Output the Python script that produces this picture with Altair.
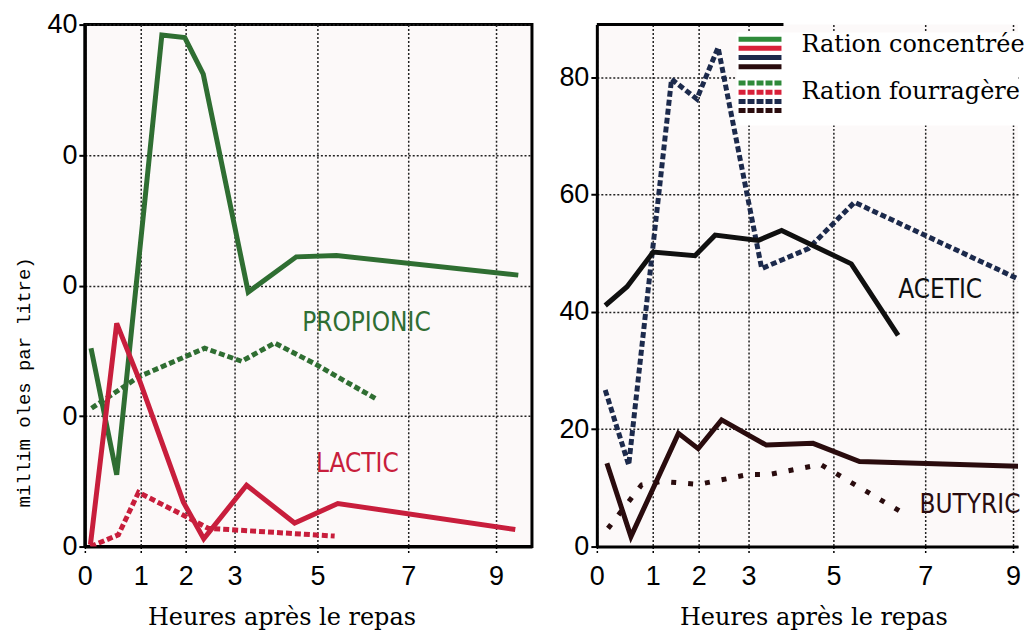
import altair as alt
import pandas as pd

# ---------------- data ----------------
hour_ticks = [0, 1, 2, 3, 5, 7, 9]
left_y_ticks = [0, 10, 20, 30, 40]
left_y_labels = ["0", "0", "0", "0", "40"]
right_y_ticks = [0, 20, 40, 60, 80]

x_title = "Heures après le repas"
y_title = "millim oles par litre)"
legend_labels = ["Ration concentrée", "Ration fourragère"]

# left panel
prop_conc_h = [0.11, 0.57, 1.47, 1.98, 2.36, 3.33, 4.49, 5.42, 9.52]
prop_conc_v = [15.2, 5.5, 39.2, 39.0, 36.2, 19.5, 22.2, 22.3, 20.8]
prop_four_h = [0.12, 0.96, 2.39, 3.17, 3.97, 4.94, 6.30]
prop_four_v = [10.6, 13.0, 15.2, 14.2, 15.6, 14.0, 11.3]
lact_conc_h = [0.10, 0.57, 0.99, 1.95, 2.37, 3.29, 4.45, 5.45, 9.45]
lact_conc_v = [0.15, 17.1, 12.6, 3.4, 0.6, 4.7, 1.8, 3.3, 1.3]
lact_four_h = [0.10, 0.60, 0.96, 1.95, 2.46, 5.38]
lact_four_v = [0.0, 0.9, 4.15, 2.4, 1.4, 0.8]

# right panel
acet_conc_h = [0.15, 0.54, 1.01, 1.92, 2.33, 3.23, 3.78, 5.39, 6.41]
acet_conc_v = [41.1, 44.3, 50.2, 49.6, 53.1, 52.2, 53.9, 48.2, 36.0]
acet_four_h = [0.15, 0.57, 1.41, 1.96, 2.39, 3.31, 4.41, 5.46, 9.48]
acet_four_v = [26.7, 13.9, 79.7, 76.3, 85.1, 47.4, 50.8, 58.7, 44.3]
buty_conc_h = [0.18, 0.61, 1.56, 1.99, 2.46, 3.42, 4.52, 5.57, 9.48]
buty_conc_v = [14.2, 1.7, 19.3, 16.7, 21.6, 17.3, 17.6, 14.5, 13.6]
buty_four_h = [0.20, 0.80, 1.20, 2.00, 3.00, 3.50, 4.70, 6.50]
buty_four_v = [3.1, 10.5, 11.1, 10.6, 12.3, 12.3, 14.0, 5.8]

# curve name annotations (hours, value)
left_notes = ["PROPIONIC", "LACTIC"]
left_notes_h = [6.08, 5.88]
left_notes_v = [17.1, 6.35]
right_notes = ["ACETIC", "BUTYRIC"]
right_notes_h = [7.34, 8.02]
right_notes_v = [43.7, 7.1]

# ---------------- styles ----------------
GREEN = "#2f6e32"
RED = "#c81e3c"
NAVY = "#1c2a4c"
BLACK = "#101010"
MAROON = "#2a0c0e"
BG = "#fcf9f9"
LEG_GREEN = "#2f8a3a"
LEG_RED = "#d8203a"
legend_colors = [LEG_GREEN, LEG_RED, NAVY, MAROON]

DASH = [6, 3]
DOT = [5, 12]
W = 5
LABEL_FONT = "Liberation Sans"
NOTE_FONT = "DejaVu Sans Condensed, Liberation Sans Narrow, Liberation Sans"
SERIF = "DejaVu Serif"

H = 523
LW = 448
RW = 422

left_x_scale = alt.Scale(domain=[0, 1, 2, 3, 5, 7, 9, 9.84],
                         range=[0, 56, 101, 150, 233, 324, 412, LW],
                         nice=False, zero=False)
right_x_scale = alt.Scale(domain=[0, 1, 2, 3, 5, 7, 9, 9.11],
                          range=[0, 56, 102, 152, 237, 329, 417, RW],
                          nice=False, zero=False)
left_y_scale = alt.Scale(domain=[0, 40], nice=False, zero=False)
right_y_scale = alt.Scale(domain=[0, 89], nice=False, zero=False)

common_axis = dict(
    labelFont=LABEL_FONT, labelFontSize=27, labelColor="black",
    domainColor="black", domainWidth=3,
    tickColor="black",
    grid=True, gridColor="#222222", gridWidth=1.5, gridDash=[2, 2], gridOpacity=1,
    titleFont=SERIF, titleFontSize=24, titleFontWeight="normal", titleColor="black",
)


def x_axis(title_x):
    return alt.Axis(values=hour_ticks, title=x_title, labelPadding=10,
                    tickSize=7, tickWidth=1.5, tickDash=[2, 2],
                    titleX=title_x, titleY=78, titleAlign="center",
                    titleBaseline="alphabetic", labelFlush=False,
                    **common_axis)


expr = "'0'"
for t, lab in zip(left_y_ticks, left_y_labels):
    expr = f"datum.value == {t} ? '{lab}' : ({expr})"

left_y_axis = alt.Axis(values=left_y_ticks, labelExpr=expr, title=y_title,
                       labelPadding=2, tickSize=6, tickWidth=2,
                       titleFont="Liberation Mono", titleFontSize=19,
                       titleAngle=270, titleX=-61, titleY=358,
                       titleAlign="center", titleBaseline="middle",
                       **{k: v for k, v in common_axis.items()
                          if k not in ("titleFont", "titleFontSize")})
right_y_axis = alt.Axis(values=right_y_ticks, title=None,
                        labelPadding=2, tickSize=6, tickWidth=2,
                        **common_axis)

left_x_axis = x_axis(197)
right_x_axis = x_axis(217)


def frame(h, v):
    return pd.DataFrame({"h": h, "v": v, "i": list(range(len(h)))})


def line(h, v, color, xs, ys, xa, ya, dash=None):
    kw = dict(color=color, strokeWidth=W, clip=True)
    if dash is not None:
        kw["strokeDash"] = dash
    return alt.Chart(frame(h, v)).mark_line(**kw).encode(
        x=alt.X("h:Q", scale=xs, axis=xa),
        y=alt.Y("v:Q", scale=ys, axis=ya),
        order="i:Q",
    )


def notes(names, hs, vs, colors, xs, ys, xa, ya):
    df = pd.DataFrame({"t": names, "h": hs, "v": vs, "c": colors})
    return alt.Chart(df).mark_text(font=NOTE_FONT, fontSize=26,
                                   align="center", baseline="middle").encode(
        x=alt.X("h:Q", scale=xs, axis=xa),
        y=alt.Y("v:Q", scale=ys, axis=ya),
        text="t:N",
        color=alt.Color("c:N", scale=None),
    )


L = (left_x_scale, left_y_scale, left_x_axis, left_y_axis)
left = alt.layer(
    line(prop_four_h, prop_four_v, GREEN, *L, dash=DASH),
    line(lact_four_h, lact_four_v, RED, *L, dash=DASH),
    line(prop_conc_h, prop_conc_v, GREEN, *L),
    line(lact_conc_h, lact_conc_v, RED, *L),
    notes(left_notes, left_notes_h, left_notes_v, [GREEN, RED], *L),
).properties(width=LW, height=H,
             view=alt.ViewBackground(fill=BG, stroke="black", strokeWidth=3))

R = (right_x_scale, right_y_scale, right_x_axis, right_y_axis)
dummy = pd.DataFrame({"a": [0]})

legend_box = alt.Chart(dummy).mark_rect(color="white").encode(
    x=alt.value(140), x2=alt.value(RW), y=alt.value(8), y2=alt.value(101))
top_border = alt.Chart(dummy).mark_rule(color="black", strokeWidth=3).encode(
    x=alt.value(0), x2=alt.value(187), y=alt.value(0))

swatches = []
for k, dash in enumerate([None, [7, 2]]):
    for i, col in enumerate(legend_colors):
        kw = dict(color=col, strokeWidth=5)
        if dash is not None:
            kw["strokeDash"] = dash
        swatches.append(alt.Chart(dummy).mark_rule(**kw).encode(
            x=alt.value(142), x2=alt.value(185),
            y=alt.value((14.6 if k == 0 else 58.6) + 9.2 * i)))

legend_text = [
    alt.Chart(dummy).mark_text(font=SERIF, fontSize=24, align="left",
                               baseline="alphabetic", color="black",
                               text=lab).encode(
        x=alt.value(205), y=alt.value(27 + 48 * j))
    for j, lab in enumerate(legend_labels)
]

right = alt.layer(
    legend_box,
    line(acet_four_h, acet_four_v, NAVY, *R, dash=DASH),
    line(buty_four_h, buty_four_v, MAROON, *R, dash=DOT),
    line(acet_conc_h, acet_conc_v, BLACK, *R),
    line(buty_conc_h, buty_conc_v, MAROON, *R),
    notes(right_notes, right_notes_h, right_notes_v, [BLACK, MAROON], *R),
    top_border,
    *swatches,
    *legend_text,
).properties(width=RW, height=H,
             view=alt.ViewBackground(fill=BG, stroke="transparent", strokeWidth=0))

chart = alt.hconcat(left, right, spacing=65, bounds="flush").properties(
    padding={"left": 5, "top": 0, "right": 0, "bottom": 0},
    background="white",
).configure_view(strokeWidth=0)

chart.save("out.html", embed_options={"renderer": "svg", "actions": False})
